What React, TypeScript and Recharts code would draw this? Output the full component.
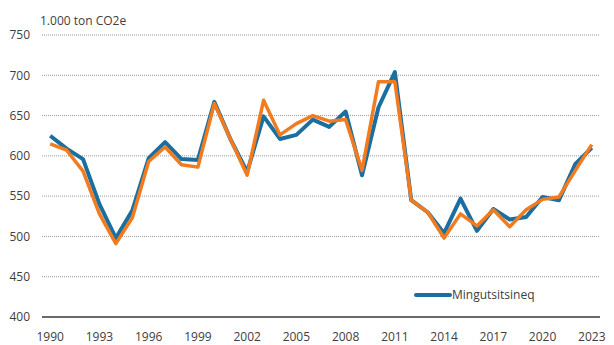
import { LineChart, Line, XAxis, YAxis, CartesianGrid } from "recharts";

const years = [
  1990, 1991, 1992, 1993, 1994, 1995, 1996, 1997, 1998, 1999, 2000, 2001,
  2002, 2003, 2004, 2005, 2006, 2007, 2008, 2009, 2010, 2011, 2012, 2013,
  2014, 2015, 2016, 2017, 2018, 2019, 2020, 2021, 2022, 2023,
];

// Mingutsitsineq (blå)
const blue = [
  625, 609, 596, 540, 498, 532, 597, 617, 596, 595, 667, 620,
  580, 649, 621, 626, 645, 636, 655, 576, 660, 704, 545, 530,
  504, 547, 507, 534, 521, 524, 549, 545, 590, 610,
];

// orange serie (ikke i forklaringen)
const orange = [
  615, 607, 581, 528, 491, 523, 593, 611, 589, 586, 665, 620,
  576, 669, 626, 640, 650, 643, 645, 582, 692, 692, 545, 530,
  498, 528, 513, 533, 512, 533, 546, 549, 582, 614,
];

const xTicks = [1990, 1993, 1996, 1999, 2002, 2005, 2008, 2011, 2014, 2017, 2020, 2023];
const yTicks = [400, 450, 500, 550, 600, 650, 700, 750];

const data = years.map((year, i) => ({ year, blue: blue[i], orange: orange[i] }));

const font = "'Open Sans', sans-serif";
const textColor = "#404040";

export default function App() {
  return (
    <div style={{ position: "absolute", left: 0, top: 0, width: 614, height: 345, background: "#fff" }}>
      <div
        style={{
          position: "absolute",
          left: 40,
          top: 12,
          fontFamily: font,
          fontSize: 12,
          color: textColor,
          whiteSpace: "nowrap",
        }}
      >
        1.000 ton CO2e
      </div>
      <LineChart width={614} height={345} data={data} margin={{ top: 35, right: 14, left: 0, bottom: 0 }}>
        <CartesianGrid vertical={false} stroke="#9a9a9a" strokeDasharray="1 1" />
        <XAxis
          dataKey="year"
          type="number"
          domain={[1989.5, 2023.5]}
          ticks={xTicks}
          height={28}
          tickLine={false}
          axisLine={{ stroke: "#404040", strokeWidth: 1.5 }}
          tickMargin={9}
          tick={{ fontSize: 12, fill: textColor, fontFamily: font }}
          interval={0}
        />
        <YAxis
          domain={[400, 750]}
          ticks={yTicks}
          width={42}
          axisLine={false}
          tickLine={false}
          tickMargin={6}
          tick={{ fontSize: 12, fill: textColor, fontFamily: font }}
          interval={0}
        />
        <Line
          dataKey="blue"
          name="Mingutsitsineq"
          stroke="#1b6fa0"
          strokeWidth={4}
          strokeLinejoin="round"
          dot={false}
          isAnimationActive={false}
        />
        <Line
          dataKey="orange"
          name="orange"
          stroke="#f27b1f"
          strokeWidth={3.5}
          strokeLinejoin="round"
          dot={false}
          isAnimationActive={false}
        />
      </LineChart>
      <div
        style={{
          position: "absolute",
          left: 414,
          top: 286,
          display: "flex",
          alignItems: "center",
          fontFamily: font,
          fontSize: 12,
          color: textColor,
        }}
      >
        <svg width={38} height={8}>
          <line x1={2} y1={4} x2={36} y2={4} stroke="#1b6fa0" strokeWidth={4} strokeLinecap="round" />
        </svg>
        <span>Mingutsitsineq</span>
      </div>
    </div>
  );
}
